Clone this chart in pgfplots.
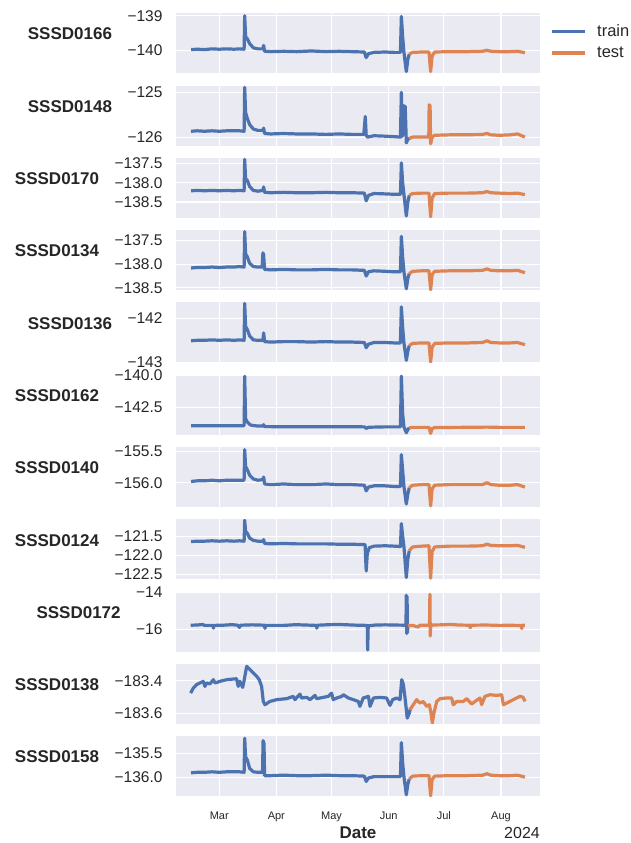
\documentclass[border=0pt]{standalone}
\usepackage{fontspec}
\setmainfont{Liberation Sans}
\usepackage{pgfplots}
\pgfplotsset{compat=1.18}
\definecolor{sbbg}{HTML}{EAEAF2}
\definecolor{sbblue}{HTML}{4C72B0}
\definecolor{sborange}{HTML}{DD8452}
\definecolor{sbtext}{HTML}{262626}

\tikzset{
  trainline/.style={draw=sbblue, color=sbblue, line width=3.2pt, line join=round},
  testline/.style={draw=sborange, color=sborange, line width=3.2pt, line join=round},
}

% one panel per sensor, days counted from 1 Jan 2024 (Mar 1 = 60)
\pgfplotsset{
  panel/.style={
    scale only axis, width=364pt, height=60pt,
    anchor=north west,
    xmin=36.5, xmax=234.2,
    xtick={60,91,121,152,182,213},
    xticklabels={},
    axis background/.style={fill=sbbg},
    axis line style={draw=none},
    major tick length=0pt,
    grid=major,
    major grid style={white, line width=1.1pt},
    tick label style={font=\fontsize{15.5}{18}\selectfont, text=sbtext},
    yticklabel style={xshift=-10pt},
    ylabel style={rotate=-90, anchor=south east, inner sep=0pt, xshift=-12pt, yshift=3pt,
      font=\fontsize{17}{20}\selectfont\bfseries, text=sbtext},
  },
}

\begin{document}
\begin{tikzpicture}
\path[use as bounding box] (0pt,0pt) rectangle (631pt,843pt);

% SSSD0166
\begin{axis}[panel, at={(176pt,829.7pt)}, name=p1,
  ymin=-140.65, ymax=-138.93, ytick={-139,-140}, yticklabels={−139,−140},
  ylabel={SSSD0166},
  legend style={draw=none, fill=none, at={(1,1)}, anchor=north west,
    xshift=12pt, yshift=-11pt, font=\fontsize{16.5}{19}\selectfont, text=sbtext,
    row sep=9pt, column sep=12pt, inner sep=0pt, nodes={inner sep=0pt}},
  legend cell align=left,
  legend image code/.code={\fill[#1, draw=none] (0pt,-1.6pt) rectangle (33pt,1.6pt);}]
\addplot[trainline] coordinates {(44.7,-139.97) (48,-139.96) (52,-139.97) (56,-139.95) (60,-139.96) (64,-139.95) (68,-139.96) (71,-139.95) (73.5,-139.96) (73.8,-139.00) (74.3,-139.60) (75.2,-139.66) (76.5,-139.80) (78.5,-139.92) (81,-139.95) (83.7,-139.95) (84.1,-139.85) (84.6,-140.02) (88,-140.03) (95,-140.02) (102,-140.03) (110,-140.01) (118,-140.03) (125,-140.02) (132,-140.03) (138.8,-140.04) (139.8,-140.20) (141,-140.09) (144,-140.05) (150,-140.04) (155,-140.05) (158.4,-140.05) (158.9,-139.02) (159.6,-139.60) (160.3,-140.05) (161.6,-140.60) (162.4,-140.25) (163.2,-140.10)};
\addlegendentry{train}
\addplot[testline] coordinates {(163.2,-140.10) (165,-140.05) (170,-140.04) (173.9,-140.04) (174.8,-140.60) (175.6,-140.15) (177,-140.04) (185,-140.03) (195,-140.03) (203,-140.02) (205.4,-139.99) (207.5,-140.02) (212,-140.03) (218,-140.03) (222,-140.02) (226,-140.06)};
\addlegendentry{test}
\end{axis}

% SSSD0148
\begin{axis}[panel, at={(176pt,757.4pt)},
  ymin=-126.19, ymax=-124.85, ytick={-125,-126}, yticklabels={−125,−126},
  ylabel={SSSD0148}]
\addplot[trainline] coordinates {(44.7,-125.87) (48,-125.86) (52,-125.87) (56,-125.86) (60,-125.87) (64,-125.86) (68,-125.86) (71,-125.86) (73.5,-125.87) (73.8,-124.89) (74.3,-125.45) (75.2,-125.58) (76.5,-125.72) (78.5,-125.82) (81,-125.85) (83.7,-125.85) (84.1,-125.80) (84.6,-125.92) (88,-125.93) (95,-125.92) (102,-125.93) (110,-125.93) (118,-125.94) (125,-125.93) (132,-125.94) (138.5,-125.94) (139.3,-125.54) (139.8,-125.96) (140.5,-126.00) (144,-125.97) (150,-125.98) (155,-125.99) (158.4,-126.00) (158.9,-125.00) (159.5,-125.98) (160.1,-125.30) (161.0,-125.32) (161.6,-126.13) (162.4,-126.05) (163.2,-126.03)};
\addplot[testline] coordinates {(163.2,-126.03) (165,-126.00) (170,-126.00) (173.8,-126.00) (174.0,-125.28) (174.5,-125.30) (174.8,-126.15) (175.6,-126.00) (177,-125.96) (185,-125.95) (195,-125.95) (203,-125.94) (205.4,-125.92) (207.5,-125.95) (212,-125.96) (218,-125.95) (222,-125.93) (226,-126.00)};
\end{axis}

% SSSD0170
\begin{axis}[panel, at={(176pt,685.1pt)},
  ymin=-138.91, ymax=-137.36, ytick={-137.5,-138,-138.5}, yticklabels={−137.5,−138.0,−138.5},
  ylabel={SSSD0170}]
\addplot[trainline] coordinates {(44.7,-138.21) (48,-138.20) (52,-138.21) (56,-138.20) (60,-138.21) (64,-138.20) (68,-138.21) (71,-138.20) (73.5,-138.21) (73.8,-137.40) (74.3,-137.90) (75.2,-137.94) (76.5,-138.10) (78.5,-138.20) (81,-138.22) (83.7,-138.20) (84.1,-138.11) (84.6,-138.25) (88,-138.26) (95,-138.25) (102,-138.26) (110,-138.26) (118,-138.25) (125,-138.26) (132,-138.26) (138.8,-138.27) (139.8,-138.47) (141,-138.33) (144,-138.28) (150,-138.29) (155,-138.30) (158.4,-138.30) (158.9,-137.49) (159.6,-138.00) (160.3,-138.30) (161.6,-138.86) (162.4,-138.50) (163.2,-138.33)};
\addplot[testline] coordinates {(163.2,-138.33) (165,-138.28) (170,-138.27) (173.9,-138.27) (174.8,-138.88) (175.6,-138.40) (177,-138.28) (185,-138.27) (195,-138.27) (203,-138.26) (205.4,-138.23) (207.5,-138.26) (212,-138.27) (218,-138.28) (222,-138.27) (226,-138.31)};
\end{axis}

% SSSD0134
\begin{axis}[panel, at={(176pt,612.8pt)},
  ymin=-138.55, ymax=-137.28, ytick={-137.5,-138,-138.5}, yticklabels={−137.5,−138.0,−138.5},
  ylabel={SSSD0134}]
\addplot[trainline] coordinates {(44.7,-138.08) (48,-138.07) (52,-138.07) (56,-138.06) (60,-138.07) (64,-138.06) (68,-138.06) (71,-138.05) (73.5,-138.06) (73.8,-137.31) (74.3,-137.78) (75.2,-137.84) (76.5,-137.98) (78.5,-138.05) (81,-138.06) (83.3,-138.06) (83.7,-137.76) (84.1,-137.80) (84.6,-138.11) (88,-138.12) (95,-138.11) (102,-138.12) (110,-138.12) (118,-138.11) (125,-138.12) (132,-138.12) (138.8,-138.13) (139.8,-138.25) (141,-138.16) (144,-138.14) (150,-138.15) (155,-138.16) (158.4,-138.16) (158.9,-137.41) (159.6,-137.85) (160.3,-138.16) (161.6,-138.52) (162.4,-138.30) (163.2,-138.20)};
\addplot[testline] coordinates {(163.2,-138.20) (165,-138.15) (170,-138.14) (173.9,-138.14) (174.8,-138.54) (175.6,-138.22) (177,-138.15) (185,-138.14) (195,-138.14) (203,-138.13) (205.4,-138.10) (207.5,-138.13) (212,-138.14) (218,-138.14) (222,-138.13) (226,-138.18)};
\end{axis}

% SSSD0136
\begin{axis}[panel, at={(176pt,540.5pt)},
  ymin=-143.01, ymax=-141.63, ytick={-142,-143}, yticklabels={−142,−143},
  ylabel={SSSD0136}]
\addplot[trainline] coordinates {(44.7,-142.51) (48,-142.50) (52,-142.50) (56,-142.49) (60,-142.50) (64,-142.49) (68,-142.50) (71,-142.49) (73.5,-142.50) (73.8,-141.65) (74.3,-142.18) (75.2,-142.25) (76.5,-142.40) (78.5,-142.49) (81,-142.50) (83.7,-142.50) (84.1,-142.33) (84.6,-142.53) (88,-142.54) (95,-142.53) (102,-142.53) (110,-142.54) (118,-142.53) (125,-142.54) (132,-142.54) (138.8,-142.55) (139.8,-142.67) (141,-142.59) (144,-142.55) (150,-142.55) (155,-142.56) (158.4,-142.56) (158.9,-141.73) (159.6,-142.20) (160.3,-142.56) (161.6,-142.96) (162.4,-142.75) (163.2,-142.62)};
\addplot[testline] coordinates {(163.2,-142.62) (165,-142.57) (170,-142.56) (173.9,-142.56) (174.8,-143.00) (175.6,-142.66) (177,-142.57) (185,-142.56) (195,-142.56) (203,-142.55) (205.4,-142.51) (207.5,-142.55) (212,-142.56) (218,-142.56) (222,-142.55) (226,-142.60)};
\end{axis}

% SSSD0162
\begin{axis}[panel, at={(176pt,468.2pt)},
  ymin=-144.66, ymax=-139.97, ytick={-140,-142.5}, yticklabels={−140.0,−142.5},
  ylabel={SSSD0162}]
\addplot[trainline] coordinates {(44.7,-143.96) (52,-143.95) (60,-143.95) (68,-143.95) (73.5,-143.95) (73.8,-140.08) (74.3,-143.40) (75.2,-143.65) (77,-143.90) (81,-143.98) (83.7,-143.98) (84.1,-143.87) (84.6,-144.02) (95,-144.03) (110,-144.03) (125,-144.03) (138.8,-144.04) (139.8,-144.16) (141,-144.07) (150,-144.04) (158.4,-144.04) (158.9,-140.08) (159.6,-143.00) (160.3,-144.04) (161.6,-144.50) (162.4,-144.25) (163.2,-144.12)};
\addplot[testline] coordinates {(163.2,-144.12) (165,-144.08) (173.9,-144.08) (174.8,-144.55) (175.6,-144.18) (177,-144.09) (190,-144.08) (205.4,-144.06) (212,-144.08) (226,-144.08)};
\end{axis}

% SSSD0140
\begin{axis}[panel, at={(176pt,395.9pt)},
  ymin=-156.39, ymax=-155.43, ytick={-155.5,-156}, yticklabels={−155.5,−156.0},
  ylabel={SSSD0140}]
\addplot[trainline] coordinates {(44.7,-155.98) (48,-155.97) (52,-155.97) (56,-155.96) (60,-155.97) (64,-155.96) (68,-155.96) (71,-155.96) (73.5,-155.96) (73.8,-155.47) (74.3,-155.74) (75.2,-155.79) (76.5,-155.88) (78.5,-155.94) (81,-155.96) (83.7,-155.95) (84.1,-155.91) (84.6,-156.02) (88,-156.03) (95,-156.02) (102,-156.03) (110,-156.03) (118,-156.02) (125,-156.03) (132,-156.03) (138.8,-156.04) (139.8,-156.13) (141,-156.07) (144,-156.05) (150,-156.05) (155,-156.06) (158.4,-156.06) (158.9,-155.55) (159.6,-155.80) (160.3,-156.06) (161.6,-156.34) (162.4,-156.18) (163.2,-156.08)};
\addplot[testline] coordinates {(163.2,-156.08) (165,-156.04) (170,-156.03) (173.9,-156.03) (174.8,-156.37) (175.6,-156.10) (177,-156.04) (185,-156.03) (195,-156.03) (203,-156.03) (205.4,-156.00) (207.5,-156.03) (212,-156.04) (218,-156.04) (222,-156.03) (226,-156.07)};
\end{axis}

% SSSD0124
\begin{axis}[panel, at={(176pt,323.6pt)},
  ymin=-122.63, ymax=-121.06, ytick={-121.5,-122,-122.5}, yticklabels={−121.5,−122.0,−122.5},
  ylabel={SSSD0124}]
\addplot[trainline] coordinates {(44.7,-121.64) (48,-121.63) (52,-121.63) (56,-121.62) (60,-121.63) (64,-121.62) (68,-121.63) (71,-121.62) (73.5,-121.63) (73.8,-121.08) (74.3,-121.38) (75.2,-121.42) (76.5,-121.55) (78.5,-121.61) (81,-121.63) (83.7,-121.63) (84.1,-121.59) (84.6,-121.69) (88,-121.70) (95,-121.69) (102,-121.70) (110,-121.70) (118,-121.70) (125,-121.71) (132,-121.71) (139.2,-121.72) (139.8,-122.41) (140.4,-121.95) (141.5,-121.80) (144,-121.76) (150,-121.75) (155,-121.76) (158.4,-121.77) (158.9,-121.17) (159.6,-121.50) (160.3,-121.77) (161.6,-122.58) (162.4,-122.10) (163.2,-121.88)};
\addplot[testline] coordinates {(163.2,-121.88) (165,-121.78) (170,-121.76) (173.9,-121.75) (174.8,-122.60) (175.6,-121.90) (177,-121.78) (185,-121.76) (195,-121.76) (203,-121.75) (205.4,-121.71) (207.5,-121.74) (212,-121.75) (218,-121.75) (222,-121.74) (226,-121.79)};
\end{axis}

% SSSD0172
\begin{axis}[panel, at={(176pt,251.3pt)},
  ymin=-17.19, ymax=-13.95, ytick={-14,-16}, yticklabels={−14,−16},
  ylabel={SSSD0172}]
\addplot[trainline] coordinates {(44.5,-15.76) (48,-15.75) (51,-15.72) (52,-15.77) (56.5,-15.77) (56.8,-15.92) (57.2,-15.77) (62,-15.76) (67,-15.73) (70,-15.76) (71,-15.88) (71.4,-15.76) (78,-15.74) (84.6,-15.76) (84.8,-15.93) (85.2,-15.77) (95,-15.77) (100,-15.74) (104,-15.74) (110,-15.76) (112.8,-15.77) (113,-15.92) (113.3,-15.76) (120,-15.73) (125,-15.72) (130,-15.74) (135,-15.76) (140.4,-15.77) (140.6,-17.10) (140.9,-15.79) (145,-15.75) (150,-15.74) (155,-15.75) (161.4,-15.76) (161.6,-14.14) (161.8,-16.21) (162.0,-14.20) (162.2,-16.15) (162.5,-15.78)};
\addplot[testline] coordinates {(162.5,-15.78) (165,-15.77) (168,-15.86) (169,-15.76) (174.2,-15.76) (174.4,-14.09) (174.6,-16.34) (174.9,-15.75) (180,-15.74) (186,-15.72) (190,-15.75) (196,-15.76) (196.3,-15.90) (196.6,-15.76) (205,-15.75) (212,-15.77) (218,-15.76) (224,-15.78) (224.3,-15.94) (224.6,-15.76) (226,-15.76)};
\end{axis}

% SSSD0138
\begin{axis}[panel, at={(176pt,179.0pt)},
  ymin=-183.665, ymax=-183.298, ytick={-183.4,-183.6}, yticklabels={−183.4,−183.6},
  ylabel={SSSD0138}]
\addplot[trainline] coordinates {(44.45,-183.476) (45.9,-183.445) (47.7,-183.424) (49.5,-183.414) (51.3,-183.404) (52.2,-183.435) (53.1,-183.414) (54.9,-183.420) (56.8,-183.394) (57.7,-183.414) (60.4,-183.404) (64.0,-183.394) (69.4,-183.388) (70.3,-183.435) (71.2,-183.404) (72.7,-183.441) (73.4,-183.404) (74.9,-183.312) (76.7,-183.333) (78.5,-183.353) (80.3,-183.373) (81.7,-183.394) (83.0,-183.435) (83.9,-183.527) (84.8,-183.547) (87.5,-183.527) (91.2,-183.516) (96.6,-183.510) (100.2,-183.496) (101.1,-183.516) (103.8,-183.482) (104.7,-183.506) (107.5,-183.502) (109.3,-183.516) (112.0,-183.490) (112.9,-183.510) (116.5,-183.502) (119.2,-183.496) (121.0,-183.476) (121.9,-183.516) (123.8,-183.506) (126.5,-183.496) (127.4,-183.486) (130.1,-183.506) (132.8,-183.516) (135.5,-183.527) (136.4,-183.557) (138.2,-183.506) (141.0,-183.496) (141.9,-183.557) (143.7,-183.506) (147.3,-183.502) (150.9,-183.506) (152.7,-183.551) (154.2,-183.516) (156.3,-183.506) (158.2,-183.516) (159.1,-183.394) (160.0,-183.424) (160.9,-183.506) (162.1,-183.629) (163.2,-183.598) (163.9,-183.567)};
\addplot[testline] coordinates {(163.6,-183.578) (165.4,-183.547) (167.2,-183.516) (169.0,-183.537) (170.8,-183.527) (172.6,-183.557) (174.1,-183.547) (175.0,-183.598) (175.7,-183.659) (176.6,-183.598) (178.1,-183.527) (179.9,-183.510) (183.5,-183.506) (186.2,-183.506) (187.1,-183.547) (188.9,-183.527) (192.6,-183.527) (194.4,-183.510) (197.1,-183.543) (198.9,-183.527) (201.6,-183.506) (202.5,-183.547) (204.3,-183.496) (207.0,-183.486) (210.7,-183.490) (213.4,-183.486) (214.3,-183.547) (216.1,-183.537) (219.7,-183.516) (221.5,-183.506) (223.3,-183.496) (225.1,-183.502) (226.0,-183.527)};
\end{axis}

% SSSD0158
\begin{axis}[panel, at={(176pt,106.7pt)}, name=p11,
  ymin=-136.40, ymax=-135.15, ytick={-135.5,-136}, yticklabels={−135.5,−136.0},
  ylabel={SSSD0158},
  xticklabels={Mar,Apr,May,Jun,Jul,Aug},
  xticklabel style={font=\fontsize{11}{13}\selectfont, yshift=-12pt},
  xlabel={Date},
  xlabel style={font=\fontsize{17}{20}\selectfont\bfseries, text=sbtext, yshift=2pt}]
\addplot[trainline] coordinates {(44.7,-135.91) (48,-135.90) (52,-135.90) (56,-135.89) (60,-135.90) (64,-135.89) (68,-135.89) (71,-135.89) (73.5,-135.90) (73.8,-135.19) (74.3,-135.58) (75.2,-135.64) (76.5,-135.82) (78.5,-135.89) (81,-135.90) (83.5,-135.90) (83.8,-135.24) (84.3,-135.30) (84.6,-135.97) (88,-135.97) (95,-135.96) (102,-135.97) (110,-135.97) (118,-135.96) (125,-135.97) (132,-135.97) (138.8,-135.98) (139.8,-136.09) (141,-136.02) (144,-135.99) (150,-135.99) (155,-135.99) (158.4,-135.99) (158.9,-135.28) (159.6,-135.70) (160.3,-135.99) (161.6,-136.37) (162.4,-136.15) (163.2,-136.04)};
\addplot[testline] coordinates {(163.2,-136.04) (165,-135.98) (170,-135.97) (173.9,-135.97) (174.8,-136.39) (175.6,-136.05) (177,-135.98) (185,-135.97) (195,-135.97) (203,-135.96) (205.4,-135.93) (207.5,-135.96) (212,-135.97) (218,-135.97) (222,-135.96) (226,-136.00)};
\end{axis}
\node[anchor=east, inner sep=0pt, font=\fontsize{16}{19}\selectfont, text=sbtext]
  at ([yshift=-37pt]p11.south east) {2024};
\end{tikzpicture}
\end{document}
